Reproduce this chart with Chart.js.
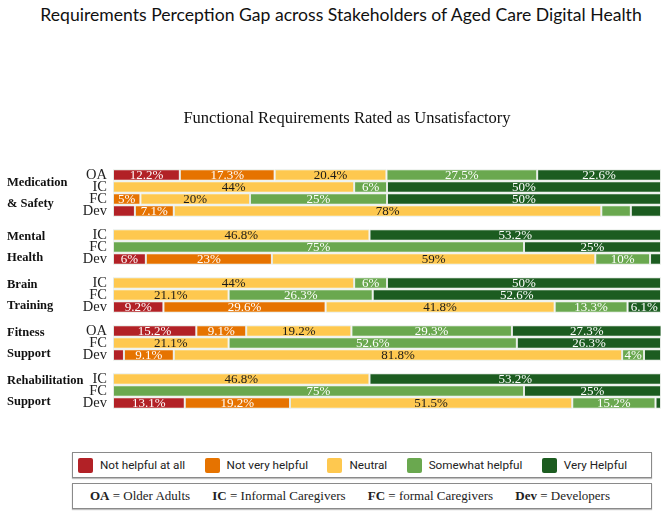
<!DOCTYPE html>
<html lang="en">
<head>
    <meta charset="UTF-8">
    <title>Requirements Perception Gap</title>
    <script src="https://cdn.jsdelivr.net/npm/chart.js"></script>
    <style>
        body { margin: 0; background: #fff; width: 669px; height: 513px; overflow: hidden; position: relative; }
        .chart-wrap { position: absolute; left: 0; top: 0; width: 669px; height: 440px; }
        #title {
            position: absolute; top: 4px; left: 0; width: 682px; text-align: center;
            font-family: Lato, "Noto Sans", sans-serif; font-size: 17.6px; color: #111;
        }
        #subtitle {
            position: absolute; top: 108px; left: 147px; width: 400px; text-align: center;
            font-family: "Liberation Serif", serif; font-size: 16.5px; color: #111;
        }
        .box {
            position: absolute; left: 72px; width: 578px; height: 24px; box-sizing: content-box;
            border: 1px solid #8a8a8a; box-shadow: 0 1px 1px rgba(0,0,0,0.25);
            display: flex; align-items: center; justify-content: space-between;
        }
        #legend { top: 452px; padding: 0 24px 0 5px; width: 549px; font-family: Roboto, "Liberation Sans", sans-serif; font-size: 11.7px; color: #222; }
        #legend span.sw { display: inline-block; width: 15px; height: 15px; border-radius: 2px; margin-right: 7px; }
        #legend .item { display: flex; align-items: center; }
        #abbr { top: 483px; padding: 0 41px 0 17px; width: 520px; font-family: "Liberation Serif", serif; font-size: 13px; color: #222; }
    </style>
</head>
<body>
    <div id="title">Requirements Perception Gap across Stakeholders of Aged Care Digital Health</div>
    <div class="chart-wrap"><canvas id="gapChart"></canvas></div>
    <div id="subtitle">Functional Requirements Rated as Unsatisfactory</div>
    <div class="box" id="legend"></div>
    <div class="box" id="abbr"></div>

    <script>
        // rows top to bottom, '' rows are spacers between requirement groups
        const rowLabels = ['OA', 'IC', 'FC', 'Dev', '', 'IC', 'FC', 'Dev', '', 'IC', 'FC', 'Dev', '', 'OA', 'FC', 'Dev', '', 'IC', 'FC', 'Dev'];
        const groups = [['Medication', '& Safety'], ['Mental', 'Health'], ['Brain', 'Training'], ['Fitness', 'Support'], ['Rehabilitation', 'Support']];
        const groupRows = [[0, 3], [5, 7], [9, 11], [13, 15], [17, 19]];

        const seriesNames = ['Not helpful at all', 'Not very helpful', 'Neutral', 'Somewhat helpful', 'Very Helpful'];
        const seriesColors = ['#b22126', '#e67300', '#fec84f', '#6aa84f', '#1c5c20'];

        const notHelpful = [12.2, 0, 0, 4, null, 0, 0, 6, null, 0, 0, 9.2, null, 15.2, 0, 2, null, 0, 0, 13.1];
        const notVery = [17.3, 0, 5, 7.1, null, 0, 0, 23, null, 0, 0, 29.6, null, 9.1, 0, 9.1, null, 0, 0, 19.2];
        const neutral = [20.4, 44, 20, 78, null, 46.8, 0, 59, null, 44, 21.1, 41.8, null, 19.2, 21.1, 81.8, null, 46.8, 0, 51.5];
        const somewhat = [27.5, 6, 25, 5.4, null, 0, 75, 10, null, 6, 26.3, 13.3, null, 29.3, 52.6, 4, null, 0, 75, 15.2];
        const veryHelpful = [22.6, 50, 50, 5.5, null, 53.2, 25, 2, null, 50, 52.6, 6.1, null, 27.3, 26.3, 3.1, null, 53.2, 25, 1];

        // small segments that carry no label in the original (row:series)
        const unlabelled = ['3:0', '3:3', '3:4', '7:4', '15:0', '15:4', '19:4'];

        const abbreviations = [['OA', 'Older Adults'], ['IC', 'Informal Caregivers'], ['FC', 'formal Caregivers'], ['Dev', 'Developers']];

        const allSeries = [notHelpful, notVery, neutral, somewhat, veryHelpful];

        // percent labels inside the segments
        const segmentLabels = {
            id: 'segmentLabels',
            afterDatasetsDraw(chart) {
                const ctx = chart.ctx;
                ctx.save();
                ctx.font = '13px "Liberation Serif", serif';
                ctx.textAlign = 'center';
                ctx.textBaseline = 'middle';
                chart.data.datasets.forEach((ds, di) => {
                    chart.getDatasetMeta(di).data.forEach((bar, i) => {
                        const v = ds.data[i];
                        if (!v || unlabelled.includes(i + ':' + di)) return;
                        ctx.fillStyle = di === 2 ? '#1a1a1a' : '#ffffff';
                        ctx.fillText(v + '%', (bar.base + bar.x) / 2, bar.y + 1);
                    });
                });
                ctx.restore();
            }
        };

        // bold two-line group names on the far left
        const groupLabels = {
            id: 'groupLabels',
            afterDraw(chart) {
                const ctx = chart.ctx;
                const y = chart.scales.y;
                ctx.save();
                ctx.font = 'bold 12.5px "Liberation Serif", serif';
                ctx.fillStyle = '#111';
                ctx.textAlign = 'left';
                ctx.textBaseline = 'middle';
                groups.forEach((g, k) => {
                    const mid = (y.getPixelForValue(groupRows[k][0]) + y.getPixelForValue(groupRows[k][1])) / 2;
                    ctx.fillText(g[0], 7, mid - 10.5);
                    ctx.fillText(g[1], 7, mid + 10.5);
                });
                ctx.restore();
            }
        };

        new Chart(document.getElementById('gapChart'), {
            type: 'bar',
            data: {
                labels: rowLabels,
                datasets: allSeries.map((d, k) => ({
                    label: seriesNames[k],
                    data: d,
                    backgroundColor: seriesColors[k],
                    borderColor: 'rgba(225,232,225,0.9)',
                    borderWidth: 1,
                    borderSkipped: false,
                    barPercentage: 0.97,
                    categoryPercentage: 1
                }))
            },
            options: {
                indexAxis: 'y',
                responsive: true,
                maintainAspectRatio: false,
                animation: false,
                layout: { padding: { left: 0, right: 8, top: 169, bottom: 31 } },
                scales: {
                    x: { stacked: true, min: 0, max: 100, display: false },
                    y: {
                        stacked: true,
                        grid: { display: false, drawTicks: false },
                        border: { display: false },
                        ticks: { autoSkip: false, font: { family: '"Liberation Serif", serif', size: 14.5 }, color: '#222', padding: 6 },
                        afterFit(s) { s.width = 113; }
                    }
                },
                plugins: {
                    legend: { display: false },
                    tooltip: { enabled: false }
                }
            },
            plugins: [segmentLabels, groupLabels]
        });

        // HTML legend boxes below the chart
        const legend = document.getElementById('legend');
        seriesNames.forEach((n, k) => {
            const item = document.createElement('div');
            item.className = 'item';
            item.innerHTML = '<span class="sw" style="background:' + seriesColors[k] + '"></span>' + n;
            legend.appendChild(item);
        });
        const abbr = document.getElementById('abbr');
        abbreviations.forEach(a => {
            const item = document.createElement('div');
            item.innerHTML = '<b>' + a[0] + '</b> = ' + a[1];
            abbr.appendChild(item);
        });
    </script>
</body>
</html>
